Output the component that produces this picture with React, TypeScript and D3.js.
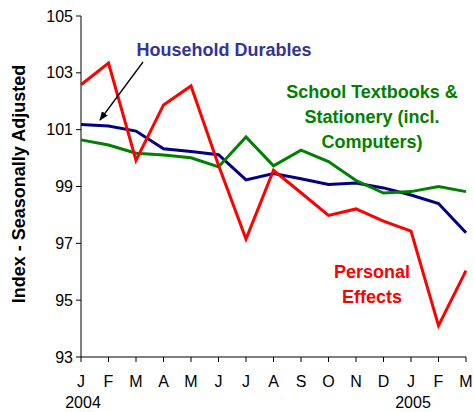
import React from "react";
import * as d3 from "d3";

const months = ["J", "F", "M", "A", "M", "J", "J", "A", "S", "O", "N", "D", "J", "F", "M"];
const yearLabels = [
  { index: 0, label: "2004" },
  { index: 12, label: "2005" },
];
const yTicks = [93, 95, 97, 99, 101, 103, 105];

const householdDurables = [101.18, 101.13, 100.95, 100.33, 100.23, 100.12, 99.23, 99.46, 99.27, 99.07, 99.12, 98.95, 98.7, 98.4, 97.37];
const schoolTextbooks = [100.64, 100.46, 100.17, 100.11, 100.01, 99.69, 100.74, 99.73, 100.28, 99.88, 99.21, 98.77, 98.82, 99.0, 98.82];
const personalEffects = [102.58, 103.34, 99.92, 101.87, 102.54, 99.75, 97.15, 99.57, 98.78, 97.98, 98.21, 97.78, 97.43, 94.1, 96.04];

const W = 474;
const H = 412;
const FONT = "'Liberation Sans', Arial, sans-serif";

export default function App() {
  const x = d3.scaleLinear().domain([0, months.length - 1]).range([81, 466]);
  const y = d3.scaleLinear().domain([93, 105]).range([357, 16]);
  const line = d3
    .line<number>()
    .x((_, i) => x(i))
    .y((d) => y(d));

  const series = [
    { data: householdDurables, color: "#000080" },
    { data: schoolTextbooks, color: "#008000" },
    { data: personalEffects, color: "#FF0000" },
  ];

  return (
    <svg
      width={W}
      height={H}
      style={{ position: "absolute", left: 0, top: 0, background: "#fff" }}
      fontFamily={FONT}
    >
      <defs>
        <marker id="arrowhead" viewBox="0 0 10 10" refX="9" refY="5" markerWidth="7" markerHeight="7" orient="auto">
          <path d="M0,1 L10,5 L0,9 z" fill="#000" />
        </marker>
      </defs>
      <rect width={W} height={H} fill="#fff" />

      {/* Y axis */}
      <line x1={x(0)} x2={x(0)} y1={y(105)} y2={y(93)} stroke="#000" strokeWidth={1} />
      {yTicks.map((t) => (
        <g key={t}>
          <line x1={x(0) - 5} x2={x(0)} y1={y(t)} y2={y(t)} stroke="#000" strokeWidth={1} />
          <text x={x(0) - 8} y={y(t)} dy="0.35em" textAnchor="end" fontSize={16} fill="#000">
            {t}
          </text>
        </g>
      ))}

      {/* X axis */}
      <line x1={x(0)} x2={x(months.length - 1)} y1={y(93)} y2={y(93)} stroke="#000" strokeWidth={1} />
      {months.map((m, i) => (
        <g key={i}>
          <line x1={x(i)} x2={x(i)} y1={y(93)} y2={y(93) + 5} stroke="#000" strokeWidth={1} />
          <text x={x(i)} y={387} textAnchor="middle" fontSize={16} fill="#000">
            {m}
          </text>
        </g>
      ))}
      {yearLabels.map((yl) => (
        <text key={yl.label} x={x(yl.index) + 2} y={408} textAnchor="middle" fontSize={16} fill="#000">
          {yl.label}
        </text>
      ))}

      {/* Y title */}
      <text
        transform={`translate(25,${184}) rotate(-90)`}
        textAnchor="middle"
        fontSize={18}
        fontWeight="bold"
        fill="#000"
      >
        Index - Seasonally Adjusted
      </text>

      {/* Lines */}
      {series.map((s, i) => (
        <path key={i} d={line(s.data) || ""} fill="none" stroke={s.color} strokeWidth={3} strokeLinejoin="miter" />
      ))}

      {/* Annotations */}
      <text x={224} y={56} textAnchor="middle" fontSize={18} fontWeight="bold" fill="#333399">
        Household Durables
      </text>
      <line x1={143} y1={62} x2={100} y2={120} stroke="#000" strokeWidth={1.3} markerEnd="url(#arrowhead)" />

      <text textAnchor="middle" fontSize={18} fontWeight="bold" fill="#008000">
        <tspan x={372} y={98}>School Textbooks &amp;</tspan>
        <tspan x={372} y={123}>Stationery (incl.</tspan>
        <tspan x={372} y={148}>Computers)</tspan>
      </text>

      <text textAnchor="middle" fontSize={18} fontWeight="bold" fill="#FF0000">
        <tspan x={372} y={278}>Personal</tspan>
        <tspan x={372} y={303}>Effects</tspan>
      </text>
    </svg>
  );
}
